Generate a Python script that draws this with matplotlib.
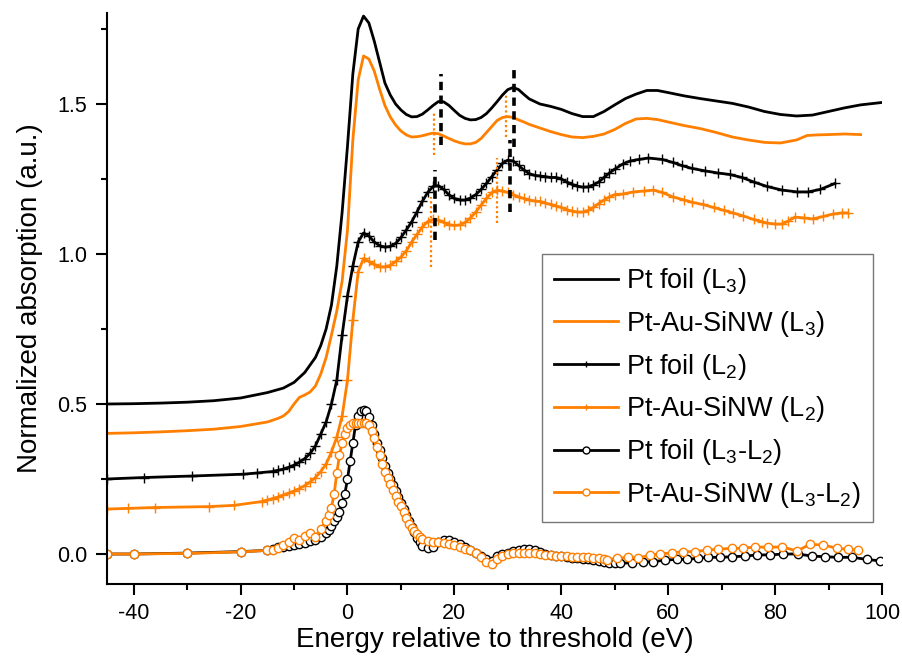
import matplotlib
matplotlib.use("Agg")
import matplotlib.pyplot as plt
from matplotlib.ticker import MultipleLocator, FormatStrFormatter

plt.rcParams['font.family'] = ['Liberation Sans', 'DejaVu Sans']
plt.rcParams['mathtext.fontset'] = 'custom'
plt.rcParams['mathtext.rm'] = 'Liberation Sans'
plt.rcParams['mathtext.it'] = 'Liberation Sans:italic'
plt.rcParams['mathtext.default'] = 'regular'

BLACK = '#000000'
ORANGE = '#FF7F00'

# ---------------- data ----------------
# Pt foil (L3)
ptL3_x = [-45, -40, -35, -30, -25, -20, -15, -12, -10, -8, -6, -5, -4, -3, -2, -1, 0, 1, 2, 3, 4, 5, 6, 7, 8,
          9, 10, 11, 12, 13, 14, 15, 16, 17, 18, 19, 20, 21, 22, 23, 24, 25, 26, 27, 28, 29, 30, 31, 32, 33,
          34, 36, 38, 40, 42, 44, 46, 48, 50, 52, 54, 56, 58, 60, 63, 66, 69, 72, 75, 78, 81, 84, 87, 90,
          93, 96, 100]
ptL3_y = [0.500, 0.501, 0.503, 0.506, 0.511, 0.520, 0.538, 0.553, 0.572, 0.605, 0.655, 0.695, 0.750, 0.830,
          0.960, 1.140, 1.360, 1.600, 1.750, 1.793, 1.770, 1.710, 1.640, 1.570, 1.530, 1.500, 1.480, 1.465,
          1.457, 1.458, 1.466, 1.480, 1.495, 1.508, 1.507, 1.495, 1.478, 1.462, 1.452, 1.447, 1.448, 1.455,
          1.468, 1.487, 1.508, 1.530, 1.548, 1.555, 1.548, 1.532, 1.517, 1.500, 1.492, 1.482, 1.468, 1.458,
          1.458, 1.475, 1.497, 1.518, 1.533, 1.545, 1.545, 1.538, 1.527, 1.518, 1.510, 1.502, 1.490, 1.475,
          1.465, 1.460, 1.463, 1.475, 1.487, 1.497, 1.505]

# Pt-Au-SiNW (L3)
nwL3_x = [-45, -40, -35, -30, -25, -20, -15, -13, -12, -11, -10, -9, -8, -7, -6, -5, -4, -3, -2, -1, 0, 1, 2,
          3, 4, 5, 6, 7, 8, 9, 10, 11, 12, 13, 14, 15, 16, 17, 18, 19, 20, 21, 22, 23, 24, 25, 26, 27, 28,
          29, 30, 31, 32, 33, 34, 36, 38, 40, 42, 44, 46, 48, 50, 52, 54, 56, 58, 60, 63, 66, 69, 72, 75,
          78, 81, 84, 86, 88, 90, 93, 96]
nwL3_y = [0.402, 0.404, 0.407, 0.411, 0.416, 0.425, 0.440, 0.452, 0.460, 0.475, 0.500, 0.522, 0.530, 0.540,
          0.560, 0.600, 0.655, 0.730, 0.810, 0.910, 1.080, 1.380, 1.580, 1.660, 1.650, 1.610, 1.550, 1.495,
          1.457, 1.430, 1.410, 1.397, 1.390, 1.391, 1.394, 1.399, 1.403, 1.401, 1.393, 1.385, 1.377, 1.371,
          1.367, 1.367, 1.372, 1.385, 1.405, 1.425, 1.445, 1.455, 1.458, 1.455, 1.447, 1.440, 1.432, 1.420,
          1.408, 1.398, 1.390, 1.388, 1.392, 1.400, 1.415, 1.435, 1.450, 1.452, 1.448, 1.440, 1.428, 1.418,
          1.405, 1.390, 1.380, 1.372, 1.370, 1.380, 1.395, 1.397, 1.398, 1.400, 1.398]

# Pt foil (L2)
ptL2_x = [-45, -38, -29, -19.5, -17, -14, -13, -12, -11, -10, -9, -8, -7, -6, -5, -4, -3, -2, -1, 0, 1, 2, 3,
          4, 5, 6, 7, 8, 9, 10, 11, 12, 13, 14, 15, 16, 17, 18, 19, 20, 21, 22, 23, 24, 25, 26, 27, 28, 29,
          30, 31, 32, 33, 34, 35, 36, 37, 38, 39, 40, 41, 42, 43, 44, 45, 46, 47, 48, 49, 50, 51.5, 52.9,
          54.5, 56.3, 58.9, 60.9, 62.5, 64.5, 66.9, 69.3, 71.5, 73.8, 76, 78.5, 81.3, 84.1, 86.2, 88.4, 91.2]
ptL2_y = [0.250, 0.255, 0.260, 0.266, 0.270, 0.275, 0.279, 0.283, 0.289, 0.296, 0.306, 0.318, 0.335, 0.360,
          0.400, 0.440, 0.500, 0.580, 0.730, 0.860, 0.960, 1.040, 1.070, 1.060, 1.040, 1.028, 1.023, 1.025,
          1.035, 1.055, 1.080, 1.107, 1.140, 1.175, 1.205, 1.225, 1.228, 1.215, 1.197, 1.185, 1.180, 1.180,
          1.186, 1.198, 1.215, 1.235, 1.258, 1.280, 1.302, 1.313, 1.310, 1.295, 1.280, 1.268, 1.262, 1.260,
          1.258, 1.255, 1.255, 1.250, 1.240, 1.232, 1.226, 1.223, 1.224, 1.230, 1.240, 1.255, 1.270, 1.283,
          1.300, 1.310, 1.315, 1.320, 1.315, 1.305, 1.295, 1.285, 1.277, 1.270, 1.265, 1.255, 1.240, 1.225,
          1.213, 1.207, 1.207, 1.215, 1.235]

# Pt-Au-SiNW (L2)
nwL2_x = [-45, -41, -36, -26, -21.3, -16, -15, -14, -13, -12, -11, -10, -9, -8, -7, -6, -5, -4, -3, -2, -1, 0,
          1, 2, 3, 4, 5, 6, 7, 8, 9, 10, 11, 12, 13, 14, 15, 16, 17, 18, 19, 20, 21, 22, 23, 24, 25, 26, 27,
          28, 29, 30, 31, 32, 33, 34, 35, 36, 37, 38, 39, 40, 41, 42, 43, 44, 45, 46, 47, 48, 49, 50, 51.5,
          53.5, 55.5, 57.2, 58.9, 60.9, 63, 64.5, 66.5, 68.5, 70.5, 72.1, 74, 76, 77.5, 78.5, 80, 81.3, 82.5,
          83.7, 85.5, 87.1, 89, 90.8, 92.5, 93.6]
nwL2_y = [0.150, 0.152, 0.155, 0.158, 0.162, 0.175, 0.180, 0.185, 0.190, 0.197, 0.203, 0.210, 0.218, 0.228,
          0.240, 0.255, 0.275, 0.300, 0.340, 0.390, 0.460, 0.580, 0.780, 0.940, 0.985, 0.975, 0.965, 0.958,
          0.957, 0.962, 0.975, 0.990, 1.010, 1.040, 1.065, 1.090, 1.108, 1.115, 1.113, 1.105, 1.098, 1.095,
          1.097, 1.105, 1.120, 1.140, 1.163, 1.185, 1.205, 1.212, 1.210, 1.205, 1.198, 1.190, 1.185, 1.180,
          1.177, 1.175, 1.170, 1.165, 1.160, 1.155, 1.148, 1.143, 1.140, 1.140, 1.145, 1.155, 1.168, 1.180,
          1.190, 1.198, 1.200, 1.207, 1.210, 1.213, 1.205, 1.190, 1.180, 1.172, 1.165, 1.155, 1.145, 1.137,
          1.127, 1.115, 1.108, 1.103, 1.100, 1.100, 1.110, 1.123, 1.120, 1.117, 1.125, 1.133, 1.137, 1.137]

# Pt foil (L3-L2)
ptD_x = [-45, -40, -30, -20, -15, -14, -13, -12, -11, -10, -9, -8, -7, -6, -5, -4, -3.5, -3, -2.5, -2, -1.5,
         -1, -0.5, 0, 0.5, 1, 1.5, 2, 2.5, 3, 3.5, 4, 4.5, 5, 5.5, 6, 6.5, 7, 7.5, 8, 8.5, 9, 9.5, 10, 10.5,
         11, 11.5, 12, 12.5, 13, 13.5, 14, 15, 16, 17, 18, 19, 20, 21, 22, 23, 24, 25, 26, 27, 28, 29, 30,
         31, 32, 33, 34, 35, 36, 37, 38, 39, 40, 41, 42, 43, 44, 45, 46, 47, 48, 49, 50, 51, 53.3, 55.3,
         57.2, 59.4, 61.7, 63.6, 65.6, 67.5, 69.7, 72.0, 74.4, 76.6, 79.1, 81.5, 84.3, 86.9, 89.3, 91.8,
         94.4, 97.2, 99.6]
ptD_y = [0.000, 0.000, 0.003, 0.008, 0.012, 0.018, 0.022, 0.025, 0.028, 0.030, 0.033, 0.037, 0.042, 0.048,
         0.057, 0.070, 0.080, 0.095, 0.110, 0.125, 0.140, 0.170, 0.200, 0.250, 0.310, 0.370, 0.430, 0.460,
         0.475, 0.480, 0.475, 0.455, 0.430, 0.400, 0.370, 0.345, 0.320, 0.295, 0.270, 0.250, 0.230, 0.210,
         0.190, 0.170, 0.150, 0.130, 0.110, 0.090, 0.072, 0.055, 0.040, 0.028, 0.020, 0.025, 0.040, 0.048,
         0.047, 0.040, 0.032, 0.025, 0.015, 0.005, -0.005, -0.015, -0.022, -0.008, 0.000, 0.005, 0.010,
         0.014, 0.017, 0.017, 0.012, 0.006, 0.000, -0.003, -0.006, -0.008, -0.010, -0.012, -0.014, -0.016,
         -0.018, -0.021, -0.024, -0.027, -0.029, -0.030, -0.031, -0.029, -0.026, -0.026, -0.020, -0.018,
         -0.018, -0.014, -0.011, -0.011, -0.009, -0.007, -0.003, -0.003, 0.000, 0.000, -0.007, -0.009,
         -0.011, -0.011, -0.018, -0.023]

# Pt-Au-SiNW (L3-L2)
nwD_x = [-45, -40, -30, -20, -15, -14, -13, -12, -11, -10, -9, -8, -7, -6, -5, -4, -3.5, -3, -2.5, -2, -1.5,
         -1, -0.5, 0, 0.5, 1, 1.5, 2, 2.5, 3, 3.5, 4, 4.5, 5, 5.5, 6, 6.5, 7, 7.5, 8, 8.5, 9, 9.5, 10, 10.5,
         11, 11.5, 12, 12.5, 13, 13.5, 14, 15, 16, 17, 18, 19, 20, 21, 22, 23, 24, 25, 26, 27, 28, 29, 30,
         31, 32, 33, 34, 35, 36, 37, 38, 39, 40, 41, 42, 43, 44, 45, 46, 47, 48, 48.6, 50.5, 52.5, 54.4,
         56.6, 58.5, 60.7, 62.8, 65.0, 67.3, 69.3, 72.0, 74.0, 76.3, 78.7, 81.3, 84.1, 86.5, 89.0, 91.6,
         93.6, 95.5]
nwD_y = [0.000, 0.000, 0.002, 0.007, 0.012, 0.015, 0.020, 0.030, 0.040, 0.055, 0.048, 0.060, 0.070, 0.058,
         0.085, 0.110, 0.130, 0.155, 0.200, 0.270, 0.330, 0.370, 0.400, 0.420, 0.430, 0.435, 0.437, 0.438,
         0.438, 0.438, 0.437, 0.430, 0.410, 0.385, 0.355, 0.330, 0.300, 0.275, 0.255, 0.235, 0.215, 0.195,
         0.175, 0.160, 0.140, 0.120, 0.100, 0.088, 0.078, 0.068, 0.058, 0.050, 0.042, 0.040, 0.040, 0.038,
         0.033, 0.030, 0.025, 0.018, 0.012, 0.003, -0.010, -0.025, -0.032, -0.015, -0.005, 0.000, 0.003,
         0.005, 0.005, 0.004, 0.002, 0.000, -0.002, -0.003, -0.005, -0.007, -0.008, -0.009, -0.010, -0.010,
         -0.011, -0.012, -0.013, -0.015, -0.020, -0.014, -0.011, -0.014, -0.003, 0.000, 0.004, 0.008, 0.008,
         0.013, 0.016, 0.019, 0.019, 0.024, 0.022, 0.024, 0.010, 0.032, 0.030, 0.019, 0.016, 0.013]

# vertical peak markers: (x, y_low, y_high)
black_marks_x = [17.5, 31.2, 16.4, 30.4]
black_marks_lo = [1.363, 1.357, 1.047, 1.140]
black_marks_hi = [1.600, 1.620, 1.280, 1.380]
orange_marks_x = [16.1, 29.6, 15.6, 28.0]
orange_marks_lo = [1.330, 1.390, 0.957, 1.103]
orange_marks_hi = [1.473, 1.537, 1.190, 1.320]

labels = ['Pt foil (L$_3$)', 'Pt-Au-SiNW (L$_3$)', 'Pt foil (L$_2$)', 'Pt-Au-SiNW (L$_2$)',
          'Pt foil (L$_3$-L$_2$)', 'Pt-Au-SiNW (L$_3$-L$_2$)']

# ---------------- figure ----------------
fig = plt.figure(figsize=(9.02, 6.57), dpi=100)
ax = fig.add_axes([0.1186, 0.1111, 0.8592, 0.869])

lw = 2.0
ax.plot(ptL3_x, ptL3_y, color=BLACK, lw=lw, label=labels[0])
ax.plot(nwL3_x, nwL3_y, color=ORANGE, lw=lw, label=labels[1])
ax.plot(ptL2_x, ptL2_y, color=BLACK, lw=lw, marker='+', ms=6.5, mew=1.0, label=labels[2])
ax.plot(nwL2_x, nwL2_y, color=ORANGE, lw=lw, marker='+', ms=6.5, mew=1.0, label=labels[3])
ax.plot(ptD_x, ptD_y, color=BLACK, lw=lw, marker='o', ms=6.0, mew=1.0, mfc='white', mec=BLACK,
        label=labels[4])
ax.plot(nwD_x, nwD_y, color=ORANGE, lw=lw, marker='o', ms=6.0, mew=1.0, mfc='white', mec=ORANGE,
        label=labels[5])

for xv, lo, hi in zip(black_marks_x, black_marks_lo, black_marks_hi):
    ax.plot([xv, xv], [lo, hi], color=BLACK, lw=2.6, dashes=(2.3, 1.5))
for xv, lo, hi in zip(orange_marks_x, orange_marks_lo, orange_marks_hi):
    ax.plot([xv, xv], [lo, hi], color=ORANGE, lw=1.6, dashes=(1.0, 1.2))

ax.set_xlim(-45, 100)
ax.set_ylim(-0.1, 1.803)
ax.xaxis.set_major_locator(MultipleLocator(20))
ax.xaxis.set_minor_locator(MultipleLocator(10))
ax.yaxis.set_major_locator(MultipleLocator(0.5))
ax.yaxis.set_minor_locator(MultipleLocator(0.25))
ax.yaxis.set_major_formatter(FormatStrFormatter('%.1f'))
ax.xaxis.set_major_formatter(FormatStrFormatter('%d'))

for side in ['top', 'right']:
    ax.spines[side].set_visible(False)
for side in ['left', 'bottom']:
    ax.spines[side].set_linewidth(1.5)

ax.tick_params(which='major', direction='out', length=8, width=1.5, labelsize=15.5, pad=6)
ax.tick_params(which='minor', direction='out', length=4, width=1.5)

ax.set_xlabel('Energy relative to threshold (eV)', fontsize=20, labelpad=2)
ax.set_ylabel('Normalized absorption (a.u.)', fontsize=20, labelpad=10)

leg = ax.legend(loc='upper left', bbox_to_anchor=(0.561, 0.578), borderaxespad=0, fontsize=19.5,
                frameon=True, fancybox=False, edgecolor='#555555', handlelength=2.36,
                handletextpad=0.3, labelspacing=0.47, borderpad=0.45)
leg.get_frame().set_linewidth(1.0)
for h in leg.get_lines():
    h.set_markersize(5)

fig.savefig('out.png', dpi=100)
